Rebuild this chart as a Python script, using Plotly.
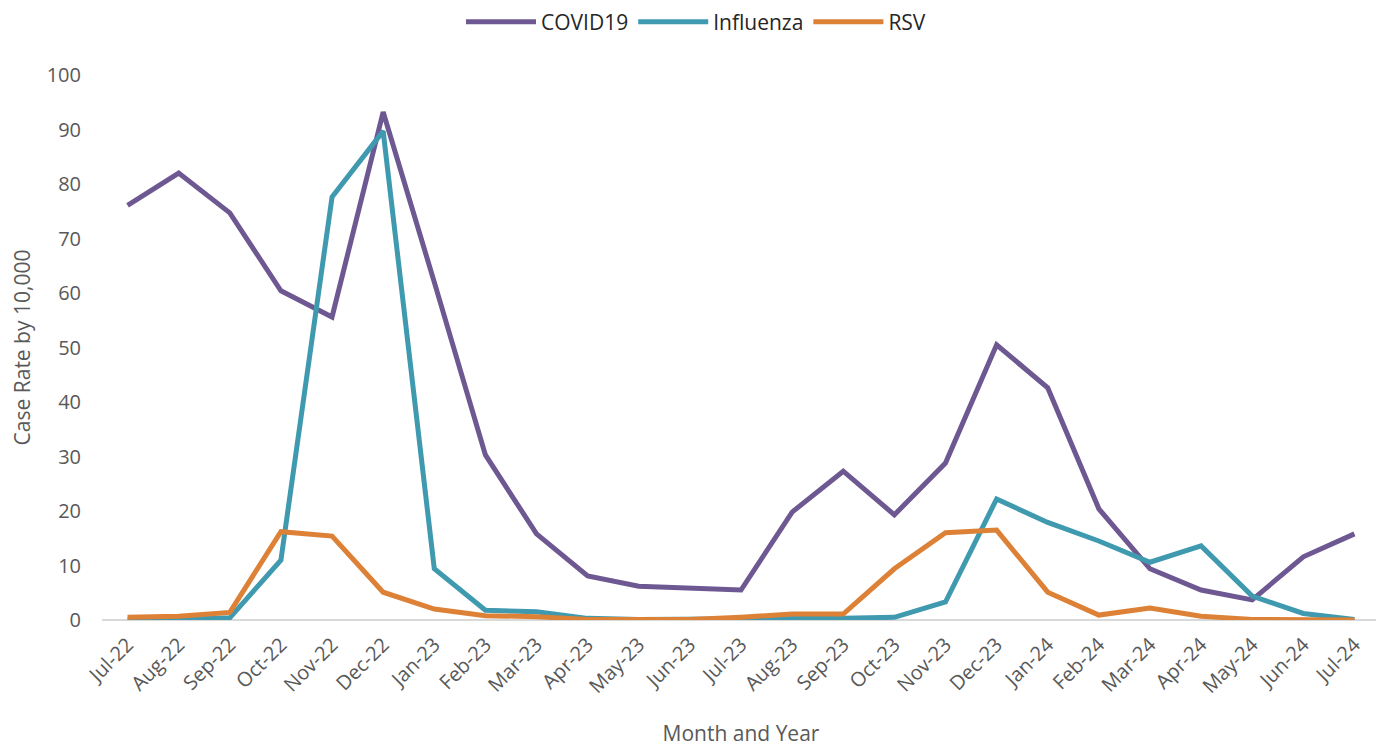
import plotly.graph_objects as go

months = ["Jul-22","Aug-22","Sep-22","Oct-22","Nov-22","Dec-22","Jan-23","Feb-23","Mar-23","Apr-23",
          "May-23","Jun-23","Jul-23","Aug-23","Sep-23","Oct-23","Nov-23","Dec-23","Jan-24","Feb-24",
          "Mar-24","Apr-24","May-24","Jun-24","Jul-24"]
covid = [76.1, 82.0, 74.7, 60.4, 55.6, 93.2, 62.0, 30.3, 15.8, 8.1,
         6.2, 5.9, 5.5, 19.8, 27.3, 19.3, 28.8, 50.5, 42.6, 20.4,
         9.4, 5.5, 3.7, 11.6, 15.8]
influenza = [0.1, 0.1, 0.4, 11.0, 77.6, 89.7, 9.4, 1.8, 1.5, 0.3,
             0.1, 0.1, 0.1, 0.3, 0.3, 0.5, 3.3, 22.2, 17.9, 14.5,
             10.6, 13.6, 4.4, 1.2, 0.1]
rsv = [0.5, 0.7, 1.4, 16.2, 15.4, 5.1, 2.0, 0.8, 0.6, 0.1,
       0.1, 0.1, 0.5, 1.1, 1.1, 9.4, 16.0, 16.5, 5.1, 0.9,
       2.2, 0.7, 0.1, 0.0, 0.0]
y_ticks = [0, 10, 20, 30, 40, 50, 60, 70, 80, 90, 100]

series = [("COVID19", covid, "#6E5892"), ("Influenza", influenza, "#3F9AB0"), ("RSV", rsv, "#DD8136")]

fig = go.Figure()
for name, vals, color in series:
    fig.add_trace(go.Scatter(x=months, y=vals, name=name, mode="lines",
                             line=dict(color=color, width=5)))

font = "Open Sans, Lato, sans-serif"
fig.update_layout(
    width=1376, height=739,
    margin=dict(l=94, r=4, t=67, b=127),
    paper_bgcolor="white", plot_bgcolor="white",
    font=dict(family=font, color="#595959", size=18),
    legend=dict(orientation="h", xref="container", x=0.5, xanchor="center",
                yref="container", y=1 - 14 / 739, yanchor="middle",
                font=dict(size=21, color="#262626"), itemwidth=70),
    xaxis=dict(type="category", range=[-0.5, len(months) - 0.5], tickangle=-45,
               showgrid=False, showline=False, zeroline=False, automargin=False,
               ticks="", tickfont=dict(size=20, color="#595959"), ticklabelstandoff=8,
               title=dict(text="Month and Year", font=dict(size=21, color="#595959"), standoff=30)),
    yaxis=dict(range=[0, 100], tickvals=y_ticks, showgrid=False, zeroline=True, automargin=False,
               zerolinecolor="#D9D9D9", zerolinewidth=2, ticks="",
               tickfont=dict(size=20, color="#595959"), ticklabelstandoff=20,
               title=dict(text="Case Rate by 10,000", font=dict(size=21, color="#595959"), standoff=28)),
)

fig.write_html("out.html")
